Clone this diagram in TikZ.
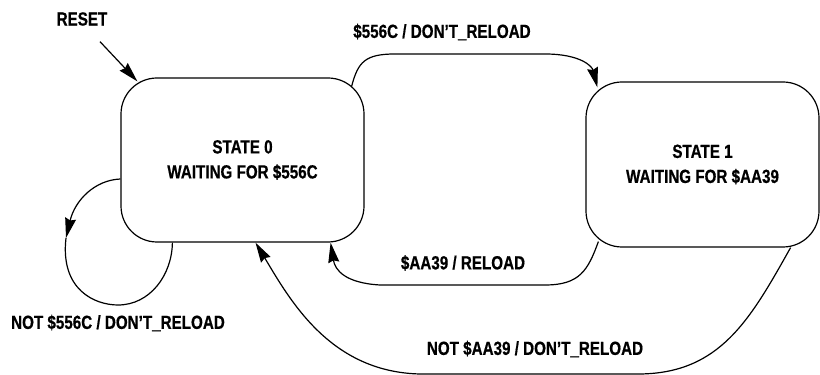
\documentclass[tikz,border=0pt]{standalone}
\usepackage{fontspec}
\setmainfont{Liberation Sans}[FakeStretch=0.8,FakeBold=0.6]
\usetikzlibrary{arrows.meta}
\newcommand{\lblfont}{\bfseries\fontsize{19}{25}\selectfont}

\begin{document}
\begin{tikzpicture}[x=1pt,y=1pt,line width=1.2pt,
  >={Stealth[length=20pt,width=11pt,inset=2pt]},
  statebox/.style={draw,rounded corners=36pt,align=center,font=\lblfont},
  lbl/.style={font=\lblfont}]
  \useasboundingbox (0,0) rectangle (820,375);
  % the two states
  \node[statebox,minimum width=243pt,minimum height=164pt] (s0) at (242.5,215) {STATE 0\\WAITING FOR \$556C};
  \node[statebox,minimum width=233pt,minimum height=165pt] (s1) at (702.5,210.5) {STATE 1\\WAITING FOR \$AA39};
  % transition labels
  \node[lbl] (reset) at (82,356) {RESET};
  \node[lbl] (go) at (442,343) {\$556C / DON’T\_RELOAD};
  \node[lbl] (back) at (463,112) {\$AA39 / RELOAD};
  \node[lbl] (stay0) at (118,52) {NOT \$556C / DON’T\_RELOAD};
  \node[lbl] (stay1) at (535,26) {NOT \$AA39 / DON’T\_RELOAD};
  % reset arrow
  \draw[->] ([xshift=18pt,yshift=-12pt]reset.south) -- ([xshift=17pt,yshift=-4pt]s0.north west);
  % s0 -> s1
  \draw[->] ([xshift=-13pt,yshift=-9pt]s0.north east) .. controls (358,313) and (365,321) .. (395,321)
    -- (545,321) .. controls (580,321) and (592,309) .. ([xshift=12pt,yshift=-6pt]s1.north west);
  % s1 -> s0 on $AA39
  \draw[->] ([xshift=13pt,yshift=6pt]s1.south west) .. controls (588,105) and (580,90) .. (545,90)
    -- (380,90) .. controls (345,92) and (335,105) .. ([xshift=-34pt]s0.south east);
  % s1 -> s0 otherwise
  \draw[->] ([xshift=-29pt]s1.south east) .. controls (750,55) and (720,2) .. (640,1)
    -- (420,1) .. controls (330,3) and (290,75) .. ([xshift=13pt]s0.south);
  % self loop on s0, arrow half way
  \coordinate (looptip) at (66,137);
  \draw[->] ([yshift=-19pt]s0.west) .. controls (95,195) and (75,175) .. (looptip);
  \draw (looptip) .. controls (60,85) and (95,70) .. (118,70)
    .. controls (150,70) and (172,100) .. ([xshift=52pt]s0.south west);
\end{tikzpicture}
\end{document}
